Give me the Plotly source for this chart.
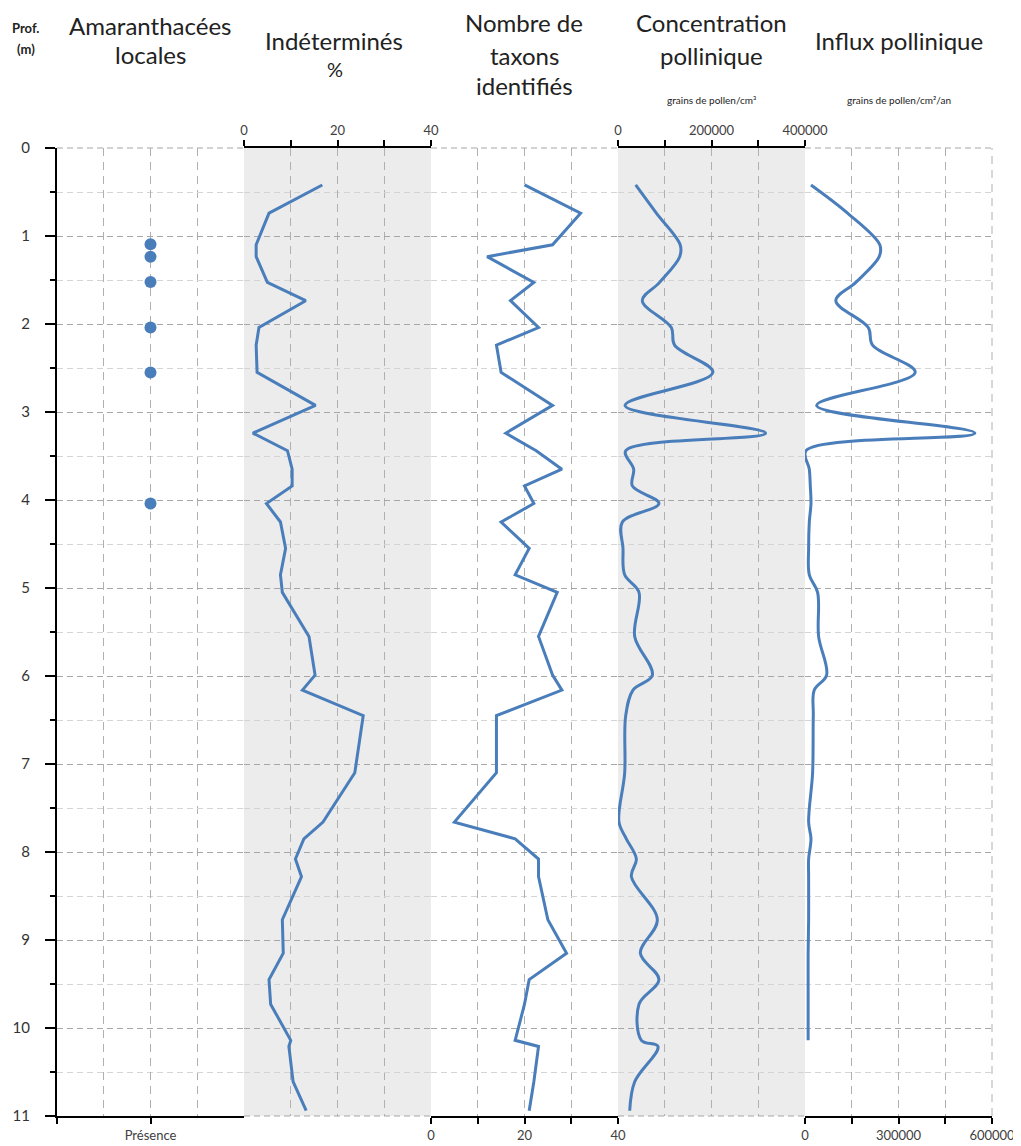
import plotly.graph_objects as go

# ---------------- data ----------------
depths = [0.42, 0.74, 1.10, 1.235, 1.527, 1.735, 2.04, 2.24, 2.55, 2.925, 3.24, 3.44,
          3.65, 3.84, 4.04, 4.25, 4.55, 4.85, 5.05, 5.55, 5.99, 6.16, 6.45, 7.10,
          7.66, 7.85, 8.08, 8.28, 8.77, 9.15, 9.45, 9.73, 10.14, 10.21, 10.61, 10.94]

amaranth_depths = [1.094, 1.235, 1.523, 2.04, 2.55, 4.04]
amaranth_presence = [1, 1, 1, 1, 1, 1]

indetermines = [16.75, 5.35, 2.6, 2.6, 5.0, 13.2, 3.2, 2.6, 2.8, 15.3, 1.9, 9.3,
                10.3, 10.3, 4.8, 7.8, 8.9, 7.8, 8.2, 13.9, 15.2, 12.5, 25.5, 23.7,
                16.9, 12.8, 11.0, 12.3, 8.2, 8.4, 5.35, 5.7, 10.0, 9.6, 10.5, 13.3]

taxons = [20, 32, 26, 12, 22, 17, 23, 14, 15, 26, 16, 22.5,
          28, 20, 22, 15, 21, 18, 27, 23, 26, 28, 14, 14,
          5, 18, 23, 23, 25, 29, 21, 20, 18, 23, 22, 21]

concentration = [37800, 82000, 133000, 132000, 89000, 52000, 114000, 121000, 203000, 15000, 315600, 16500,
                 33500, 30700, 87600, 9400, 10700, 14300, 44900, 35700, 73500, 32000, 16500, 14300,
                 2000, 17800, 39300, 28600, 84200, 47800, 87600, 44900, 50000, 85500, 35700, 25000]

influx_depths = depths[:33]
influx = [19200, 136500, 240000, 238000, 163000, 99000, 203000, 216700, 353500, 37300, 545000, 3200,
          13800, 17000, 19200, 13800, 11600, 13800, 40400, 43600, 69300, 29800, 26600, 24400,
          11600, 19200, 11600, 11600, 11600, 10000, 10000, 10000, 10000]

depth_ticks = list(range(0, 12))
pct_ticks = [0, 20, 40]
conc_ticks = [0, 200000, 400000]
influx_ticks = [0, 300000, 600000]

# ---------------- styling ----------------
BLUE = "#4a7ebb"
FONT = "Lato"
GRID_MAJ = "#a6a6a6"
GRID_MIN = "#d4d4d4"
GRID_V = "#b0b0b0"
DASH = "6px,4px"
VDASH = "8px,6px"

# the page body has an 8px default margin, so the figure is drawn 8px in/down
OFF = 8
W, H = 1021 - OFF, 1146 - OFF
L, R, T, B = 57 - OFF, 992 - OFF, 148 - OFF, 1116 - OFF

fig = go.Figure()

fig.add_trace(go.Scatter(x=amaranth_presence, y=amaranth_depths, mode="markers",
                         marker=dict(size=12, color=BLUE), xaxis="x", yaxis="y",
                         showlegend=False, hoverinfo="skip"))
fig.add_trace(go.Scatter(x=indetermines, y=depths, mode="lines",
                         line=dict(color=BLUE, width=3), xaxis="x2", yaxis="y",
                         showlegend=False))
fig.add_trace(go.Scatter(x=taxons, y=depths, mode="lines",
                         line=dict(color=BLUE, width=3), xaxis="x3", yaxis="y",
                         showlegend=False))
fig.add_trace(go.Scatter(x=concentration, y=depths, mode="lines",
                         line=dict(color=BLUE, width=3, shape="spline", smoothing=1.0),
                         xaxis="x4", yaxis="y", showlegend=False))
fig.add_trace(go.Scatter(x=influx, y=influx_depths, mode="lines",
                         line=dict(color=BLUE, width=3, shape="spline", smoothing=1.0),
                         xaxis="x5", yaxis="y", showlegend=False))

tickfont = dict(family=FONT, size=13, color="#404040")


def xaxis(domain, rng, side, tickvals, ticktext, minor_vals, minor_ticks="outside"):
    return dict(domain=domain, range=rng, side=side, anchor="y", automargin=False,
                showline=True, linecolor="black", linewidth=2,
                tickmode="array", tickvals=tickvals, ticktext=ticktext,
                ticks="outside", ticklen=6, tickwidth=2, tickcolor="black",
                tickfont=tickfont, showgrid=True, gridcolor=GRID_V, gridwidth=1,
                griddash=VDASH, zeroline=False, fixedrange=True,
                minor=dict(tickmode="array", tickvals=minor_vals, ticks=minor_ticks,
                           ticklen=6, tickwidth=2, tickcolor="black",
                           showgrid=True, gridcolor=GRID_V, gridwidth=1, griddash=VDASH))


layout = dict(
    width=W, height=H,
    margin=dict(l=L, r=W - R, t=T, b=H - B, pad=0, autoexpand=False),
    paper_bgcolor="white", plot_bgcolor="white",
    showlegend=False,
    font=dict(family=FONT, color="#222222"),
    yaxis=dict(domain=[0, 1], range=[11, 0], anchor="x", showline=True, automargin=False,
               linecolor="black", linewidth=2, ticks="outside", ticklen=10,
               tickwidth=2, tickcolor="black", tickmode="array", tickvals=depth_ticks,
               ticktext=[str(v) for v in depth_ticks],
               tickfont=dict(family=FONT, size=15, color="#333333"),
               showgrid=True, gridcolor=GRID_MAJ, gridwidth=1, griddash=DASH,
               zeroline=False, fixedrange=True, ticklabelstandoff=12,
               minor=dict(dtick=0.5, ticks="outside", ticklen=5, tickwidth=2,
                          tickcolor="black", showgrid=True, gridcolor=GRID_MIN,
                          gridwidth=1, griddash=DASH)),
    xaxis=xaxis([0, 0.2], [0, 2], "bottom", [0, 1], ["", "Présence"], [0.5, 1.5, 2],
                minor_ticks=""),
    xaxis2=xaxis([0.2, 0.4], [0, 40], "top", pct_ticks, [str(v) for v in pct_ticks], [10, 30]),
    xaxis3=xaxis([0.4, 0.6], [0, 40], "bottom", pct_ticks, [str(v) for v in pct_ticks], [10, 30]),
    xaxis4=xaxis([0.6, 0.8], [0, 400000], "top", conc_ticks, [str(v) for v in conc_ticks],
                 [100000, 300000]),
    xaxis5=xaxis([0.8, 1.0], [0, 600000], "bottom", influx_ticks, [str(v) for v in influx_ticks],
                 [150000, 450000]),
)
fig.update_layout(**layout)

# grey shading of panels 2 and 4
for ax in ["x2", "x4"]:
    fig.add_shape(type="rect", xref=f"{ax} domain", yref="y domain", x0=0, x1=1, y0=0, y1=1,
                  fillcolor="#ececec", line=dict(width=0), layer="below")

# dashed grid lines on the outer edges of the plot area (not drawn by plotly at range ends)
for ax in ["x", "x3", "x5"]:   # top edge where no top axis line exists
    fig.add_shape(type="line", xref=f"{ax} domain", yref="y domain", x0=0, x1=1, y0=1, y1=1,
                  line=dict(color=GRID_MAJ, width=1, dash=DASH), layer="above")
for ax in ["x2", "x4"]:        # bottom edge where no bottom axis line exists
    fig.add_shape(type="line", xref=f"{ax} domain", yref="y domain", x0=0, x1=1, y0=0, y1=0,
                  line=dict(color=GRID_MAJ, width=1, dash=DASH), layer="above")
fig.add_shape(type="line", xref="x5 domain", yref="y domain", x0=1, x1=1, y0=0, y1=1,
              line=dict(color=GRID_V, width=1, dash=VDASH), layer="above")


def px2paper(x, y):
    # x, y given in page pixels of the reference
    return (x - OFF - L) / (R - L), (B - (y - OFF)) / (B - T)


def label(text, x, y, size, bold=False, color="#222222"):
    px, py = px2paper(x, y)
    fig.add_annotation(text=f"<b>{text}</b>" if bold else text, x=px, y=py,
                       xref="paper", yref="paper", xanchor="center", yanchor="middle",
                       showarrow=False, font=dict(family=FONT, size=size, color=color))


label("Prof.", 26, 28, 13, bold=True)
label("(m)", 26, 49, 13, bold=True)
label("Amaranthacées", 150, 25, 24)
label("locales", 150, 54, 24)
label("Indéterminés", 334, 40, 24)
label("%", 335, 69, 20)
label("Nombre de", 524, 23, 24)
label("taxons", 524, 55, 24)
label("identifiés", 524, 86, 24)
label("Concentration", 711, 23, 24)
label("pollinique", 711, 55, 24)
label("grains de pollen/cm³", 711, 100, 10)
label("Influx pollinique", 899, 40, 24)
label("grains de pollen/cm²/an", 899, 100, 10)

fig.write_html("out.html")
